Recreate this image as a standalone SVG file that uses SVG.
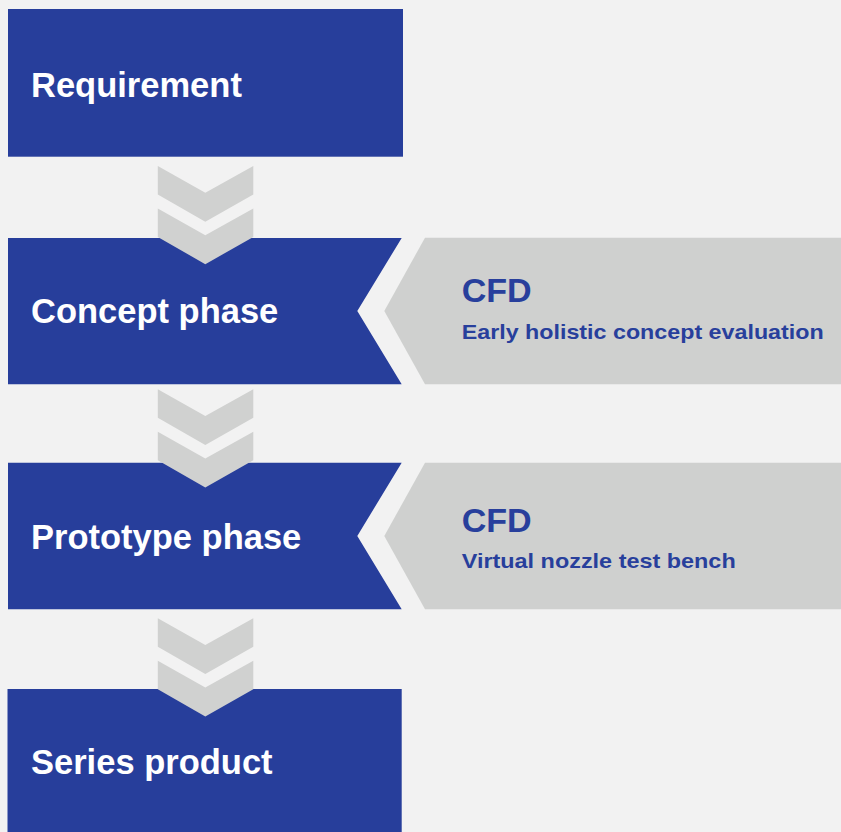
<svg xmlns="http://www.w3.org/2000/svg" width="841" height="832" viewBox="0 0 841 832">
<style>
.box{fill:#273e9b}
.cfd{fill:#cfd0cf}
.chev{fill:#d0d1d0}
.lbl{font-family:"Liberation Sans",Arial,sans-serif;font-weight:bold;font-size:34.5px;fill:#ffffff}
.h{font-family:"Liberation Sans",Arial,sans-serif;font-weight:bold;font-size:33px;fill:#283f9c}
.sub{font-family:"Liberation Sans",Arial,sans-serif;font-weight:bold;font-size:21px;fill:#283f9c}
</style>
<defs>
<polygon id="chv" points="0,0 47.5,26.7 95.5,0 95.5,28.5 47.5,55.7 0,28.5"/>
</defs>
<rect x="0" y="0" width="841" height="832" fill="#f2f2f2"/>
<g id="requirement">
<rect class="box" x="8" y="9" width="395" height="147.7"/>
<text class="lbl" x="31" y="96.7">Requirement</text>
</g>
<g id="concept">
<polygon class="box" points="8,238 401.7,238 357.3,311 401.7,384.3 8,384.3"/>
<text class="lbl" x="31" y="323.3">Concept phase</text>
</g>
<g id="cfd-concept">
<polygon class="cfd" points="425,237.7 841,237.7 841,384.3 425,384.3 384.3,311"/>
<text class="h" x="461.7" y="301.7" textLength="70" lengthAdjust="spacingAndGlyphs">CFD</text>
<text class="sub" x="461.7" y="339" textLength="362" lengthAdjust="spacingAndGlyphs">Early holistic concept evaluation</text>
</g>
<g id="prototype">
<polygon class="box" points="8,462.7 401.7,462.7 357.3,536 401.7,609.3 8,609.3"/>
<text class="lbl" x="31" y="548.5">Prototype phase</text>
</g>
<g id="cfd-prototype">
<polygon class="cfd" points="425,462.7 841,462.7 841,609.3 425,609.3 384.3,536"/>
<text class="h" x="461.7" y="531.7" textLength="70" lengthAdjust="spacingAndGlyphs">CFD</text>
<text class="sub" x="461.7" y="567.5" textLength="274" lengthAdjust="spacingAndGlyphs">Virtual nozzle test bench</text>
</g>
<g id="series">
<rect class="box" x="7.5" y="689" width="394.2" height="143"/>
<text class="lbl" x="31" y="774">Series product</text>
</g>
<g id="connectors">
<use href="#chv" class="chev" x="157.8" y="166"/>
<use href="#chv" class="chev" x="157.8" y="208.5"/>
<use href="#chv" class="chev" x="157.8" y="389.3"/>
<use href="#chv" class="chev" x="157.8" y="431.8"/>
<use href="#chv" class="chev" x="157.8" y="618.3"/>
<use href="#chv" class="chev" x="157.8" y="660.7"/>
</g>
</svg>
